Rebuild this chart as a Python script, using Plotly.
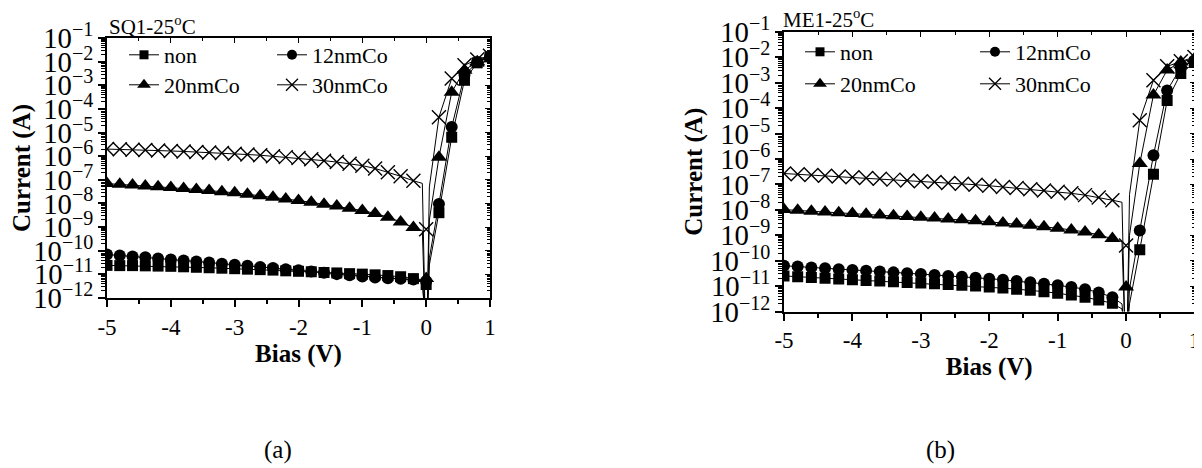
import plotly.graph_objects as go

# ---------------- data (log10 of current in A) ----------------
bias = [-5.0, -4.8, -4.6, -4.4, -4.2, -4.0, -3.8, -3.6, -3.4, -3.2, -3.0, -2.8, -2.6,
        -2.4, -2.2, -2.0, -1.8, -1.6, -1.4, -1.2, -1.0, -0.8, -0.6, -0.4, -0.2,
        0.0, 0.2, 0.4, 0.6, 0.8, 1.0]

# panel (a) SQ1-25 C
sq_non = [-10.62, -10.63, -10.63, -10.64, -10.65, -10.66, -10.68, -10.70, -10.72, -10.74,
          -10.76, -10.78, -10.80, -10.82, -10.85, -10.87, -10.89, -10.92, -10.94, -10.97,
          -10.99, -11.02, -11.05, -11.10, -11.18,
          -11.43, -8.39, -5.20, -2.79, -2.05, -1.80]
sq_12 = [-10.16, -10.20, -10.24, -10.28, -10.33, -10.37, -10.41, -10.46, -10.50, -10.55,
         -10.59, -10.64, -10.69, -10.73, -10.78, -10.83, -10.88, -10.93, -10.99, -11.04,
         -11.09, -11.13, -11.16, -11.19, -11.22,
         -11.30, -8.02, -4.77, -2.57, -2.02, -1.78]
sq_20 = [-7.16, -7.19, -7.22, -7.26, -7.29, -7.33, -7.37, -7.41, -7.45, -7.50,
         -7.55, -7.61, -7.67, -7.74, -7.81, -7.88, -7.95, -8.03, -8.11, -8.20,
         -8.30, -8.42, -8.58, -8.78, -9.02,
         -11.17, -6.05, -3.29, -2.36, -2.00, -1.78]
sq_30 = [-5.70, -5.71, -5.73, -5.74, -5.76, -5.78, -5.80, -5.82, -5.84, -5.87,
         -5.90, -5.93, -5.96, -6.00, -6.04, -6.08, -6.13, -6.19, -6.25, -6.32,
         -6.40, -6.52, -6.68, -6.85, -7.04,
         -9.09, -4.35, -2.71, -2.15, -1.91, -1.75]

# panel (b) ME1-25 C
me_non = [-10.60, -10.63, -10.66, -10.69, -10.72, -10.75, -10.78, -10.80, -10.83, -10.86,
          -10.88, -10.91, -10.94, -10.97, -11.00, -11.04, -11.08, -11.12, -11.16, -11.22,
          -11.28, -11.35, -11.44, -11.55, -11.68,
          -12.40, -9.57, -6.60, -3.70, -2.63, -2.20]
me_12 = [-10.20, -10.23, -10.27, -10.30, -10.34, -10.37, -10.40, -10.43, -10.46, -10.49,
         -10.52, -10.56, -10.60, -10.63, -10.67, -10.71, -10.75, -10.80, -10.85, -10.91,
         -10.97, -11.04, -11.12, -11.25, -11.44,
         -12.30, -8.81, -5.85, -3.30, -2.40, -2.12]
me_20 = [-7.99, -8.02, -8.05, -8.08, -8.11, -8.14, -8.17, -8.20, -8.23, -8.26,
         -8.29, -8.32, -8.36, -8.39, -8.43, -8.47, -8.52, -8.56, -8.61, -8.66,
         -8.72, -8.79, -8.87, -8.98, -9.13,
         -11.04, -6.18, -3.48, -2.50, -2.18, -2.05]
me_30 = [-6.57, -6.60, -6.63, -6.66, -6.69, -6.72, -6.75, -6.78, -6.81, -6.84,
         -6.87, -6.90, -6.94, -6.97, -7.01, -7.05, -7.10, -7.14, -7.19, -7.24,
         -7.29, -7.35, -7.42, -7.51, -7.62,
         -9.40, -4.47, -2.90, -2.35, -2.15, -1.98]

# extra points of the fitted lines around 0 V (the |I| dip)
dip_bias = [-0.06, -0.015, 0.015, 0.05]
sq_non_dip = [-11.25, -13.0, -13.0, -10.6]
sq_12_dip = [-11.27, -13.0, -13.0, -10.3]
sq_20_dip = [-9.15, -13.0, -13.0, -8.7]
sq_30_dip = [-7.15, -13.0, -13.0, -7.3]
me_non_dip = [-11.90, -13.0, -13.0, -11.7]
me_12_dip = [-11.70, -13.0, -13.0, -11.1]
me_20_dip = [-9.25, -13.0, -13.0, -9.0]
me_30_dip = [-7.70, -13.0, -13.0, -7.4]

labels = ["non", "12nmCo", "20nmCo", "30nmCo"]
panel_titles = ["SQ1-25<sup>o</sup>C", "ME1-25<sup>o</sup>C"]
captions = ["(a)", "(b)"]
x_ticks = [-5, -4, -3, -2, -1, 0, 1]

# ---------------- figure ----------------
# the page body has an 8 px margin, so the figure is 8 px smaller than the window
OFF = 8
W, H = 1202 - OFF, 468 - OFF
FONT = "Liberation Serif"
symbols = ["square", "circle", "triangle-up", "x-thin"]
msizes = [11, 12, 14, 14]


def px_x(p):
    return (p - OFF) / W


def px_y(p):
    return 1 - (p - OFF) / H


def line_xy(vals, dips):
    pts = [(b, v) for b, v in zip(bias, vals) if b != 0.0]
    pts += list(zip(dip_bias, dips))
    pts.sort()
    return [p[0] for p in pts], [10 ** p[1] for p in pts]


fig = go.Figure()

panels = [
    dict(series=[sq_non, sq_12, sq_20, sq_30], dips=[sq_non_dip, sq_12_dip, sq_20_dip, sq_30_dip],
         xa="x", ya="y", leg=["legend", "legend", "legend2", "legend2"]),
    dict(series=[me_non, me_12, me_20, me_30], dips=[me_non_dip, me_12_dip, me_20_dip, me_30_dip],
         xa="x2", ya="y2", leg=["legend3", "legend3", "legend4", "legend4"]),
]

for pi, p in enumerate(panels):
    for si in range(4):
        vals = p["series"][si]
        lx, ly = line_xy(vals, p["dips"][si])
        fig.add_trace(go.Scatter(x=lx, y=ly, mode="lines", xaxis=p["xa"], yaxis=p["ya"],
                                 line=dict(color="black", width=1), showlegend=False,
                                 hoverinfo="skip"))
        mk = dict(symbol=symbols[si], size=msizes[si], color="black",
                  line=dict(color="black", width=1.4 if si == 3 else 0))
        fig.add_trace(go.Scatter(x=bias, y=[10 ** v for v in vals], mode="markers",
                                 xaxis=p["xa"], yaxis=p["ya"], marker=mk, showlegend=False,
                                 name=labels[si]))
        fig.add_trace(go.Scatter(x=[None], y=[None], mode="lines+markers", xaxis=p["xa"],
                                 yaxis=p["ya"], name=labels[si],
                                 line=dict(color="black", width=1),
                                 marker=dict(symbol=symbols[si], size=msizes[si] - 2,
                                             color="black",
                                             line=dict(color="black", width=1.3 if si == 3 else 0)),
                                 legend=p["leg"][si]))

# invisible traces that carry the mirrored (top / right) tick axes
for xa, ya in [("x3", "y3"), ("x4", "y4")]:
    fig.add_trace(go.Scatter(x=[None], y=[None], xaxis=xa, yaxis=ya, showlegend=False,
                             hoverinfo="skip", mode="markers"))

boxes = [dict(l=107, r=490, t=38, b=298), dict(l=784, r=1194.5, t=32, b=311.5)]

axis_font = dict(family=FONT, size=23, color="black")
title_font = dict(family=FONT, size=25, color="black")
y_standoff = [0, 0]

for i, bx in enumerate(boxes):
    sfx = "" if i == 0 else "2"
    osfx = str(3 + i)
    xdom = [px_x(bx["l"]), px_x(bx["r"])]
    ydom = [px_y(bx["b"]), px_y(bx["t"])]
    fig.update_layout(**{
        "xaxis" + sfx: dict(
            domain=xdom, range=[-5, 1], anchor="y" + sfx, automargin=False,
            tickmode="array", tickvals=x_ticks, ticktext=[str(t) for t in x_ticks],
            ticks="outside", ticklen=7, tickwidth=1.5, tickcolor="black",
            minor=dict(ticks="outside", ticklen=4, tickwidth=1.5, dtick=0.5, tick0=0,
                       tickcolor="black", showgrid=False),
            showline=True, linecolor="black", linewidth=2, mirror=True,
            showgrid=False, zeroline=False, tickfont=axis_font,
            title=dict(text="<b>Bias (V)</b>", font=title_font, standoff=2),
        ),
        "yaxis" + sfx: dict(
            domain=ydom, type="log", range=[-12, -1], automargin=False,
            anchor="x" + sfx, dtick=1, exponentformat="power",
            ticks="outside", ticklen=7, tickwidth=1.5, tickcolor="black",
            minor=dict(ticks="outside", ticklen=4, tickwidth=1, dtick="D1",
                       tickcolor="black", showgrid=False),
            showline=True, linecolor="black", linewidth=2, mirror=True,
            showgrid=False, zeroline=False, tickfont=axis_font,
            title=dict(text="<b>Current (A)</b>", font=title_font, standoff=y_standoff[i]),
        ),
        "xaxis" + osfx: dict(
            domain=xdom, range=[-5, 1], anchor="y" + osfx, side="top", automargin=False,
            overlaying="x" + sfx,
            tickmode="array", tickvals=x_ticks, showticklabels=False,
            ticks="inside", ticklen=5, tickwidth=1.2, tickcolor="black",
            minor=dict(ticks="inside", ticklen=3, tickwidth=1.2, dtick=0.5, tick0=0,
                       tickcolor="black", showgrid=False),
            showline=False, showgrid=False, zeroline=False,
        ),
        "yaxis" + osfx: dict(
            domain=ydom, type="log", range=[-12, -1], anchor="x" + osfx, side="right",
            overlaying="y" + sfx, automargin=False,
            dtick=1, showticklabels=False,
            ticks="inside", ticklen=5, tickwidth=1.2, tickcolor="black",
            minor=dict(ticks="inside", ticklen=3, tickwidth=1, dtick="D1",
                       tickcolor="black", showgrid=False),
            showline=False, showgrid=False, zeroline=False,
        ),
    })

leg_common = dict(orientation="h", font=dict(family=FONT, size=22, color="black"),
                  bgcolor="rgba(0,0,0,0)", borderwidth=0, xanchor="left", yanchor="middle",
                  itemwidth=30, tracegroupgap=0)
fig.update_layout(
    legend=dict(x=px_x(124), y=px_y(55), entrywidth=103, **leg_common),
    legend2=dict(x=px_x(124), y=px_y(85), entrywidth=103, **leg_common),
    legend3=dict(x=px_x(800), y=px_y(52), entrywidth=130, **leg_common),
    legend4=dict(x=px_x(800), y=px_y(84), entrywidth=130, **leg_common),
)

annots = [
    dict(x=px_x(107), y=px_y(25), text=panel_titles[0]),
    dict(x=px_x(781), y=px_y(19), text=panel_titles[1]),
]
for a in annots:
    fig.add_annotation(xref="paper", yref="paper", xanchor="left", yanchor="middle",
                       showarrow=False, font=dict(family=FONT, size=21, color="black"), **a)
for txt, cx in zip(captions, [278, 940]):
    fig.add_annotation(xref="paper", yref="paper", x=px_x(cx), y=px_y(450), text=txt,
                       xanchor="center", yanchor="middle", showarrow=False,
                       font=dict(family=FONT, size=25, color="black"))

fig.update_layout(width=W, height=H,
                  margin=dict(l=0, r=0, t=0, b=0, pad=0, autoexpand=False),
                  font=dict(family=FONT, color="black"),
                  paper_bgcolor="white", plot_bgcolor="rgba(0,0,0,0)", showlegend=True)

fig.write_html("out.html")
